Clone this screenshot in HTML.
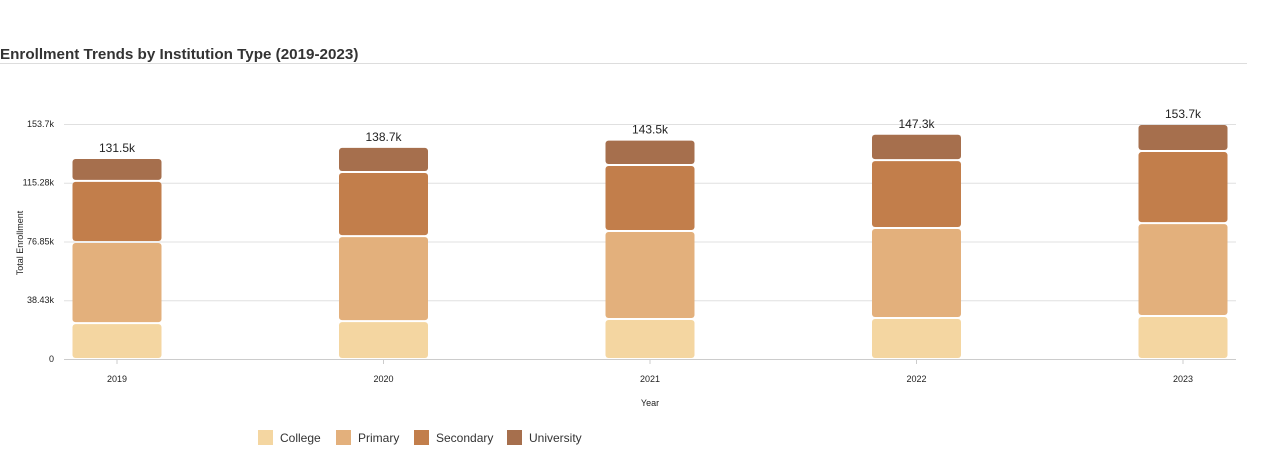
<!DOCTYPE html>
<html><head><meta charset="utf-8">
<style>
html,body{margin:0;padding:0;background:#fff;width:1280px;height:454px;overflow:hidden;font-family:"Liberation Sans",sans-serif;}
svg{display:block}
</style></head>
<body>
<svg id="chart" width="1280" height="454">
  <text x="0" y="59" font-size="15.2" font-weight="bold" fill="#333">Enrollment Trends by Institution Type (2019-2023)</text>
  <line x1="0" y1="63.5" x2="1247" y2="63.5" stroke="#ddd"/>
  <g id="grid"></g>
  <g id="bars"></g>
  <text transform="translate(23,243) rotate(-90)" text-anchor="middle" font-size="9" fill="#222">Total Enrollment</text>
  <text x="650" y="406" text-anchor="middle" font-size="9" fill="#222">Year</text>
  <g id="legend"></g>
</svg>
<script>
const years = ["2019","2020","2021","2022","2023"];
const college = [23.5, 24.8, 26.2, 26.8, 28.1];
const primary = [53.0, 55.6, 57.5, 58.9, 60.8];
const secondary = [40.0, 41.9, 43.2, 44.4, 47.1];
const university = [15.0, 16.4, 16.6, 17.2, 17.7];
const totalLabels = ["131.5k","138.7k","143.5k","147.3k","153.7k"];
const yTicks = [0, 38.43, 76.85, 115.28, 153.7];
const yTickLabels = ["0","38.43k","76.85k","115.28k","153.7k"];
const seriesNames = ["College","Primary","Secondary","University"];
const colors = ["#f4d6a1","#e3b07c","#c27e4b","#a66f4d"];

const NS = "http://www.w3.org/2000/svg";
const plotL = 64, plotR = 1236, plotT = 124, plotB = 359, yMax = 153.7;
const y = v => plotB - (v / yMax) * (plotB - plotT);
const x = i => 117 + i * ((plotR - plotL - 106) / (years.length - 1));
const barW = 89;
function mk(tag, attrs, parent) {
  const el = document.createElementNS(NS, tag);
  for (const k in attrs) el.setAttribute(k, attrs[k]);
  parent.appendChild(el);
  return el;
}
const grid = document.getElementById("grid");
yTicks.forEach((t, i) => {
  const gl = mk("line", {x1: plotL, x2: plotR, y1: y(t) + 0.5, y2: y(t) + 0.5, stroke: i === 0 ? "#ccc" : "#e0e0e0"}, grid);
  
  
  const tl = mk("text", {x: 54, y: y(t) + 3, "text-anchor": "end", "font-size": 9, fill: "#222"}, grid);
  tl.textContent = yTickLabels[i];
  
  
});
const bars = document.getElementById("bars");
const series = [college, primary, secondary, university];
years.forEach((yr, i) => {
  let cum = 0;
  series.forEach((s, k) => {
    const y0 = y(cum), y1 = y(cum + s[i]);
    cum += s[i];
    const r = mk("rect", {x: x(i) - barW / 2, y: y1 + 1, width: barW, height: Math.max(0, y0 - y1 - 2), rx: 3, fill: colors[k]}, bars);
    
    
  });
  const tl = mk("text", {x: x(i), y: y(cum) - 6, "text-anchor": "middle", "font-size": 12, fill: "#222"}, bars);
  tl.textContent = totalLabels[i];
  
  
  const tk = mk("line", {x1: x(i), x2: x(i), y1: plotB, y2: plotB + 5, stroke: "#ccc"}, bars);
  
  
  const xl = mk("text", {x: x(i), y: 382, "text-anchor": "middle", "font-size": 9, fill: "#222"}, bars);
  xl.textContent = yr;
  
  
});
const legend = document.getElementById("legend");
const lx = [258, 336, 414, 507];
seriesNames.forEach((n, k) => {
  const g = mk("g", {}, legend);
  
  
  mk("rect", {x: lx[k], y: 430, width: 15, height: 15, fill: colors[k]}, g);
  const t = mk("text", {x: lx[k] + 22, y: 442, "font-size": 12, fill: "#333"}, g);
  t.textContent = n;
});
</script>
</body></html>
